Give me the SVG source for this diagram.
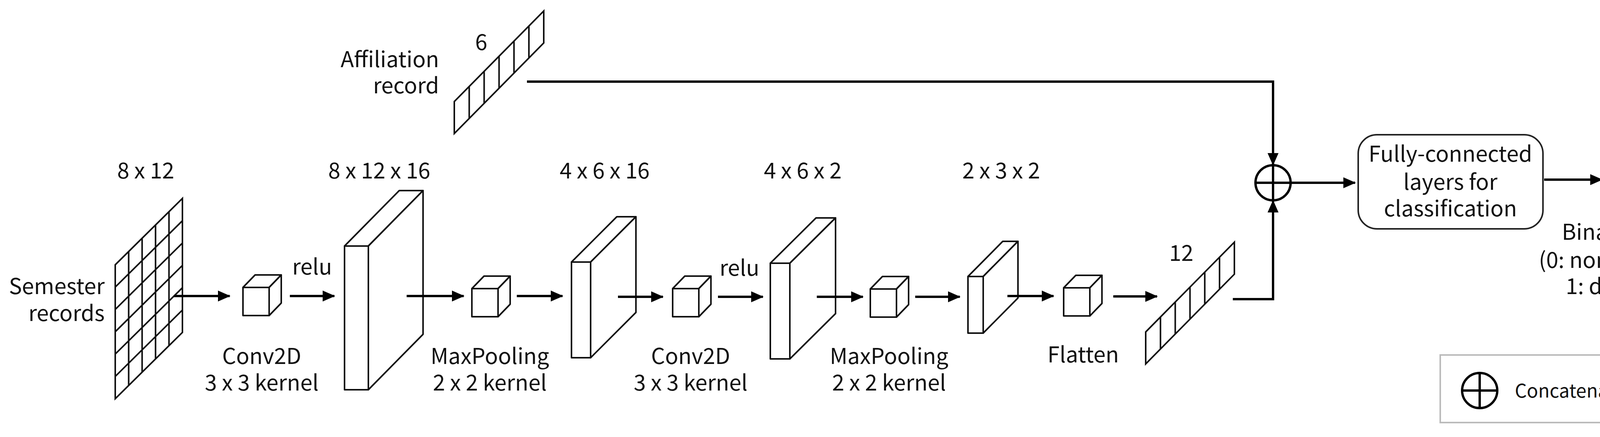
<svg xmlns="http://www.w3.org/2000/svg" width="4399" height="1119" viewBox="0 0 4399 1119">
<style>
text{font-family:"Noto Sans CJK KR","Noto Sans",sans-serif;font-size:56px;fill:#111}
.s{fill:#fff;stroke:#111;stroke-width:4;stroke-linejoin:round}
.g{fill:none;stroke:#111;stroke-width:4;vector-effect:non-scaling-stroke}
.c{fill:none;stroke:#000;stroke-width:6}
.m{text-anchor:middle}
.e{text-anchor:end}
</style>
<defs>
<marker id="a" markerUnits="userSpaceOnUse" markerWidth="32" markerHeight="28" refX="30" refY="14" orient="auto"><path d="M0,0L32,14L0,28z" fill="#000"/></marker>
</defs>
<g id="semester">
<g transform="translate(295,678) matrix(1,-0.988,0,1,0,0)">
<rect class="g" x="0" y="0" width="172" height="343"/>
<path class="g" d="M34.4,0V343M68.8,0V343M103.2,0V343M137.6,0V343M0,57.2H172M0,114.3H172M0,171.5H172M0,228.7H172M0,285.8H172"/>
</g>
<text class="m" x="373" y="457">8 x 12</text>
<text class="e" x="268" y="753">Semester</text>
<text class="e" x="268" y="822">records</text>
</g>
<g id="affiliation">
<g transform="translate(1163,260) matrix(1,-1.013,0,1,0,0)">
<rect class="g" x="0" y="0" width="229" height="82"/>
<path class="g" d="M38.2,0V82M76.4,0V82M114.6,0V82M152.8,0V82M191,0V82"/>
</g>
<text class="m" x="1232" y="128">6</text>
<text class="e" x="1124" y="172">Affiliation</text>
<text class="e" x="1124" y="239">record</text>
</g>
<g id="cube1"><path class="s" d="M622,736L653,704H720L689,736Z"/><path class="s" d="M689,736L720,704V776L689,808Z"/><rect class="s" x="622" y="736" width="67" height="72"/></g>
<g id="conv1lbl"><text class="m" x="670" y="932">Conv2D</text><text class="m" x="670" y="1000">3 x 3 kernel</text><text class="m" x="799" y="703">relu</text></g>
<g id="block1"><path class="s" d="M882,630L1022,488H1083L943,630Z"/><path class="s" d="M943,630L1083,488V856L943,998Z"/><rect class="s" x="882" y="630" width="61" height="368"/><text class="m" x="971" y="457">8 x 12 x 16</text></g>
<g id="cube2"><path class="s" d="M1208,739L1239,707H1306L1275,739Z"/><path class="s" d="M1275,739L1306,707V779L1275,811Z"/><rect class="s" x="1208" y="739" width="67" height="72"/><text class="m" x="1254" y="932">MaxPooling</text><text class="m" x="1254" y="1000">2 x 2 kernel</text></g>
<g id="block2"><path class="s" d="M1463,671L1579,555H1628L1512,671Z"/><path class="s" d="M1512,671L1628,555V800L1512,916Z"/><rect class="s" x="1463" y="671" width="49" height="245"/><text class="m" x="1548" y="457">4 x 6 x 16</text></g>
<g id="cube3"><path class="s" d="M1722,739L1753,707H1820L1789,739Z"/><path class="s" d="M1789,739L1820,707V779L1789,811Z"/><rect class="s" x="1722" y="739" width="67" height="72"/><text class="m" x="1768" y="932">Conv2D</text><text class="m" x="1768" y="1000">3 x 3 kernel</text><text class="m" x="1893" y="706">relu</text></g>
<g id="block3"><path class="s" d="M1972,674L2089,558H2139L2022,674Z"/><path class="s" d="M2022,674L2139,558V803L2022,919Z"/><rect class="s" x="1972" y="674" width="50" height="245"/><text class="m" x="2055" y="457">4 x 6 x 2</text></g>
<g id="cube4"><path class="s" d="M2228,740L2259,708H2326L2295,740Z"/><path class="s" d="M2295,740L2326,708V780L2295,812Z"/><rect class="s" x="2228" y="740" width="67" height="72"/><text class="m" x="2276" y="932">MaxPooling</text><text class="m" x="2276" y="1000">2 x 2 kernel</text></g>
<g id="block4"><path class="s" d="M2478,708L2567,618H2606L2517,708Z"/><path class="s" d="M2517,708L2606,618V763L2517,853Z"/><rect class="s" x="2478" y="708" width="39" height="145"/><text class="m" x="2563" y="457">2 x 3 x 2</text></g>
<g id="cube5"><path class="s" d="M2723,737L2754,705H2821L2790,737Z"/><path class="s" d="M2790,737L2821,705V777L2790,809Z"/><rect class="s" x="2723" y="737" width="67" height="72"/><text class="m" x="2773" y="928">Flatten</text></g>
<g id="flat12">
<g transform="translate(2933,850) matrix(1,-1.013,0,1,0,0)">
<rect class="g" x="0" y="0" width="227" height="82"/>
<path class="g" d="M37.8,0V82M75.6,0V82M113.4,0V82M151.2,0V82M189,0V82"/>
</g>
<text class="m" x="3024" y="668">12</text>
</g>
<g id="concat"><circle cx="3259" cy="468" r="45" fill="#fff" stroke="#000" stroke-width="6"/><path d="M3214,468H3304M3259,423V513" stroke="#000" stroke-width="6"/></g>
<g id="fc"><rect x="3477" y="345" width="473" height="241" rx="48" fill="#fff" stroke="#222" stroke-width="4"/>
<text class="m" x="3713" y="414">Fully-connected</text><text class="m" x="3713" y="486">layers for</text><text class="m" x="3713" y="554">classification</text></g>
<g id="output"><path class="s" d="M4134,450L4192,389V468L4134,520Z"/>
<text class="m" x="4149" y="339">1</text>
<text class="m" x="4154" y="614">Binary class</text><text class="m" x="4154" y="686">(0: non-dropout,</text><text class="m" x="4154" y="753">1: dropout)</text></g>
<g id="legend"><rect x="3687" y="909" width="648" height="173" fill="#fff" stroke="#bbb" stroke-width="4"/>
<circle cx="3788" cy="1000" r="45" fill="none" stroke="#000" stroke-width="6"/><path d="M3743,1000H3833M3788,955V1045" stroke="#000" stroke-width="6"/>
<text x="3878" y="1018" style="font-size:48px">Concatenation</text></g>
<g id="connectors">
<path class="c" d="M445,758H588" marker-end="url(#a)"/>
<path class="c" d="M742,758H856" marker-end="url(#a)"/>
<path class="c" d="M1041,758H1187" marker-end="url(#a)"/>
<path class="c" d="M1323,758H1440" marker-end="url(#a)"/>
<path class="c" d="M1582,760H1697" marker-end="url(#a)"/>
<path class="c" d="M1838,760H1953" marker-end="url(#a)"/>
<path class="c" d="M2091,760H2209" marker-end="url(#a)"/>
<path class="c" d="M2343,760H2457" marker-end="url(#a)"/>
<path class="c" d="M2579,758H2697" marker-end="url(#a)"/>
<path class="c" d="M2850,759H2962" marker-end="url(#a)"/>
<path class="c" d="M1349,209H3259V422" marker-end="url(#a)"/>
<path class="c" d="M3156,766H3259V514" marker-end="url(#a)"/>
<path class="c" d="M3304,468H3469" marker-end="url(#a)"/>
<path class="c" d="M3953,460H4101" marker-end="url(#a)"/>
</g>
</svg>
